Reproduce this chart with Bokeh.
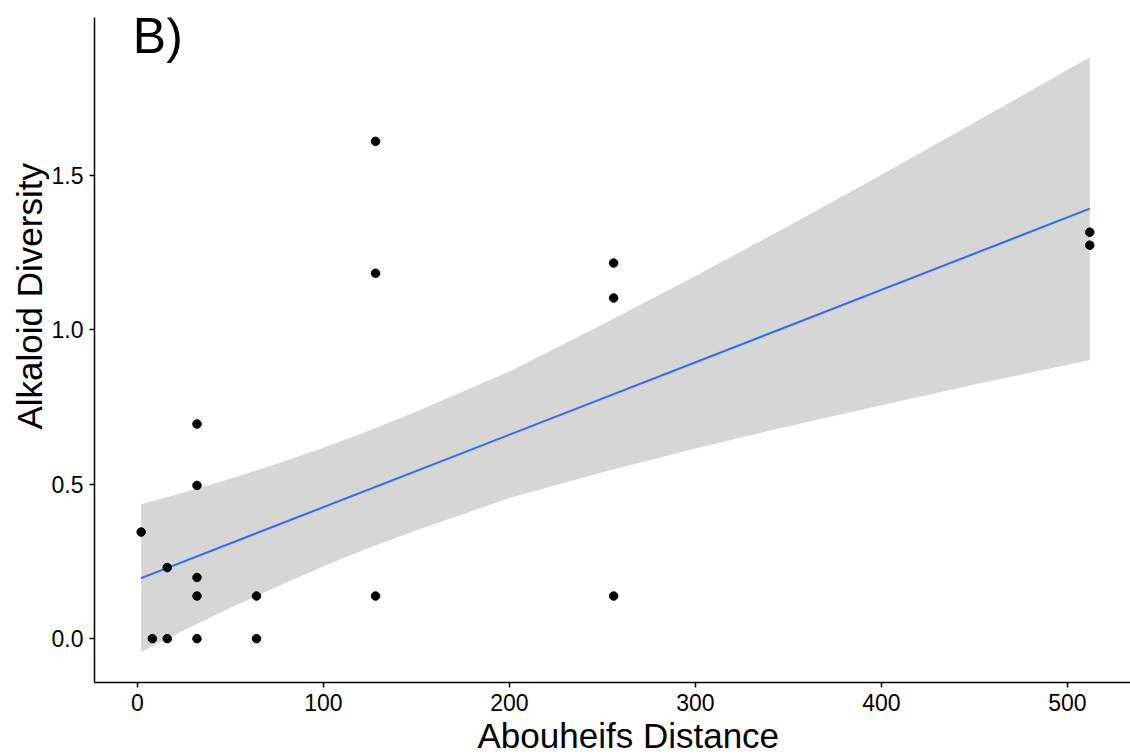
from bokeh.plotting import figure
from bokeh.models import FixedTicker, PrintfTickFormatter, Label, Range1d, Title
from bokeh.embed import file_html
from bokeh.resources import INLINE

# ---- data ----
distance = [2, 8, 16, 16, 32, 32, 32, 32, 32, 64, 64, 128, 128, 128, 256, 256, 256, 512, 512]
diversity = [0.345, 0.0, 0.0, 0.23, 0.0, 0.138, 0.198, 0.496, 0.695, 0.0, 0.138,
             0.138, 1.183, 1.61, 0.138, 1.103, 1.216, 1.274, 1.316]

fit_x = [2, 512]
fit_y = [0.196, 1.392]

band_x = [2, 25, 50, 75, 100, 125, 150, 200, 250, 300, 350, 400, 450, 512]
band_lower = [-0.043, 0.027, 0.100, 0.168, 0.234, 0.295, 0.351, 0.455, 0.539, 0.616,
              0.688, 0.756, 0.823, 0.902]
band_upper = [0.435, 0.473, 0.518, 0.566, 0.618, 0.675, 0.735, 0.865, 1.017, 1.174,
              1.336, 1.502, 1.671, 1.882]

x_ticks = [0, 100, 200, 300, 400, 500]
y_ticks = [0.0, 0.5, 1.0, 1.5]

title_text = "B)"
x_title = "Abouheifs Distance"
y_title = "Alkaloid Diversity"

FONT = "Liberation Sans"

p = figure(width=1130, height=754, output_backend="svg", toolbar_location=None,
           x_range=Range1d(-23.1, 533.9), y_range=Range1d(-0.142, 2.011),
           min_border_left=94, min_border_right=0, min_border_top=17, min_border_bottom=71)
p.outline_line_color = None
p.xgrid.visible = False
p.ygrid.visible = False
p.background_fill_color = "white"
p.border_fill_color = "white"

# confidence band, fit line, points
p.varea(x=band_x, y1=band_lower, y2=band_upper, fill_color="#999999", fill_alpha=0.4)
p.line(fit_x, fit_y, line_color="#3366FF", line_width=2)
p.scatter(distance, diversity, size=8.5, fill_color="black", line_color="black")

for ax in (p.xaxis[0], p.yaxis[0]):
    ax.axis_line_color = "black"
    ax.axis_line_width = 1.5
    ax.major_tick_line_color = "black"
    ax.major_tick_line_width = 1.5
    ax.major_tick_out = 5
    ax.major_tick_in = 0
    ax.minor_tick_line_color = None
    ax.major_label_text_font = FONT
    ax.major_label_text_font_size = "23px"
    ax.major_label_text_color = "black"
    ax.major_label_standoff = 6

p.xaxis.ticker = FixedTicker(ticks=x_ticks)
p.yaxis.ticker = FixedTicker(ticks=y_ticks)
p.yaxis.formatter = PrintfTickFormatter(format="%.1f")

# axis titles, placed as in the reference
p.add_layout(Title(text=x_title, align="left", offset=383, text_font=FONT,
                   text_font_size="35px", text_font_style="normal",
                   text_color="black", standoff=0), "below")
p.add_layout(Title(text=y_title, align="left", offset=253, text_font=FONT,
                   text_font_size="35px", text_font_style="normal",
                   text_color="black", standoff=0), "left")

# panel tag
p.add_layout(Label(x=-2.5, y=1.951, text=title_text, text_font=FONT,
                   text_font_size="50px", text_color="black",
                   text_align="left", text_baseline="middle"))

open("out.html", "w").write(file_html(p, INLINE))
